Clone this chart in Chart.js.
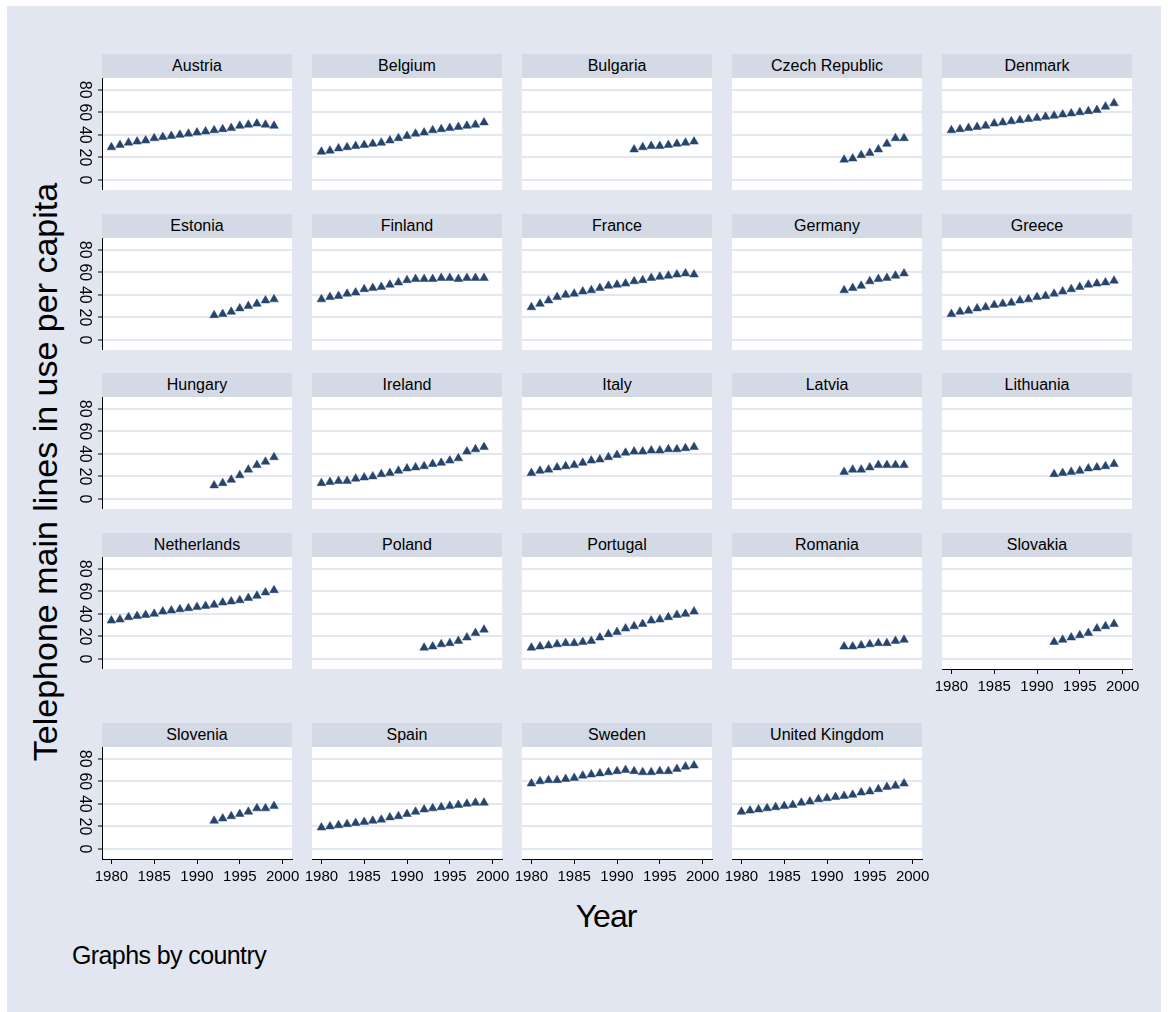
<!DOCTYPE html>
<html>
<head>
<meta charset="utf-8">
<script src="https://cdn.jsdelivr.net/npm/chart.js@4.4.1/dist/chart.umd.min.js"></script>
<style>
  html, body { margin: 0; padding: 0; background: #fff; }
  body { position: relative; width: 1168px; height: 1012px; overflow: hidden; font-family: "Liberation Sans", Arial, sans-serif; color: #000; }
  #frame { position: absolute; left: 7px; top: 6px; width: 1154px; height: 1006px; background: #e1e6f0; }
  .strip { position: absolute; height: 24px; line-height: 24px; background: #d3d9e5; text-align: center; font-size: 16px; }
  .panel { position: absolute; }
  .ytitle { position: absolute; left: -355px; top: 452px; width: 800px; height: 40px; line-height: 40px; text-align: center; font-size: 34px; transform: rotate(-90deg); }
  .xtitle { position: absolute; left: 406px; top: 896px; width: 400px; height: 40px; line-height: 40px; text-align: center; font-size: 32px; letter-spacing: -1px; }
  .note { position: absolute; left: 72px; top: 940px; line-height: 30px; font-size: 25px; letter-spacing: -0.6px; }
</style>
</head>
<body>
<div id="frame"></div>
<div class="ytitle">Telephone main lines in use per capita</div>
<div class="xtitle">Year</div>
<div class="note">Graphs by country</div>
<script>
// ---- data ----
var years = [1980, 1981, 1982, 1983, 1984, 1985, 1986, 1987, 1988, 1989,
             1990, 1991, 1992, 1993, 1994, 1995, 1996, 1997, 1998, 1999];
var countries = ['Austria', 'Belgium', 'Bulgaria', 'Czech Republic', 'Denmark',
                 'Estonia', 'Finland', 'France', 'Germany', 'Greece',
                 'Hungary', 'Ireland', 'Italy', 'Latvia', 'Lithuania',
                 'Netherlands', 'Poland', 'Portugal', 'Romania', 'Slovakia',
                 'Slovenia', 'Spain', 'Sweden', 'United Kingdom'];
var firstYear = [1980, 1980, 1992, 1992, 1980,
                 1992, 1980, 1980, 1992, 1980,
                 1992, 1980, 1980, 1992, 1992,
                 1980, 1992, 1980, 1992, 1992,
                 1992, 1980, 1980, 1980];

var austria     = [29, 31, 33, 34, 35, 37, 38, 39, 40, 41, 42, 43, 44, 45, 46, 48, 49, 50, 49, 48];
var belgium     = [25, 26, 28, 29, 30, 31, 32, 33, 35, 37, 39, 41, 42, 44, 45, 46, 47, 48, 49, 51];
var bulgaria    = [27, 29, 30, 30, 31, 32, 33, 34];
var czech       = [18, 19, 22, 24, 27, 32, 37, 37];
var denmark     = [44, 45, 46, 47, 48, 50, 51, 52, 53, 54, 55, 56, 57, 58, 59, 60, 61, 62, 65, 68];
var estonia     = [22, 23, 25, 28, 30, 32, 35, 36];
var finland     = [36, 38, 39, 41, 42, 45, 46, 47, 49, 51, 53, 54, 54, 54, 55, 55, 54, 55, 55, 55];
var france      = [29, 32, 35, 38, 40, 41, 43, 44, 46, 48, 49, 50, 52, 53, 55, 56, 57, 58, 59, 58];
var germany     = [44, 46, 48, 52, 54, 55, 57, 59];
var greece      = [23, 25, 26, 28, 29, 31, 32, 33, 35, 36, 38, 39, 41, 43, 45, 47, 49, 50, 51, 52.5];
var hungary     = [12, 14, 17, 21, 26, 30, 33, 37];
var ireland     = [14, 15, 16, 16, 18, 19, 20, 22, 23, 25, 27, 28, 29, 31, 32, 34, 36, 42, 44, 46];
var italy       = [23, 25, 26, 28, 29, 30, 32, 34, 35, 37, 39, 41, 42, 42, 43, 43, 44, 44, 45, 46];
var latvia      = [24, 26, 26, 28, 30, 30, 30, 30];
var lithuania   = [22, 23, 24, 25, 27, 28, 29, 31];
var netherlands = [34, 35, 37, 38, 39, 40, 42, 43, 44, 45, 46, 47, 48, 50, 51, 52, 54, 56, 59, 61];
var poland      = [10, 11, 13, 14, 16, 19, 23, 26];
var portugal    = [10, 11, 12, 13, 14, 14, 15, 16, 19, 22, 24, 27, 29, 31, 34, 35, 37, 39, 40, 42];
var romania     = [11, 11, 12, 13, 14, 14, 16, 17];
var slovakia    = [15, 17, 19, 21, 23, 27, 29, 31];
var slovenia    = [25, 27, 29, 31, 33, 36, 36, 38];
var spain       = [19, 20, 21, 22, 23, 24, 25, 26, 28, 29, 31, 33, 35, 36, 37, 38, 39, 40, 41, 41];
var sweden      = [58, 60, 61, 61, 62, 63, 65, 66, 67, 68, 69, 70, 69, 68, 68, 69, 69, 71, 73, 74];
var uk          = [33, 34, 35, 36, 37, 38, 39, 41, 42, 44, 45, 46, 47, 48, 50, 51, 53, 55, 56, 58];

var values = [austria, belgium, bulgaria, czech, denmark,
              estonia, finland, france, germany, greece,
              hungary, ireland, italy, latvia, lithuania,
              netherlands, poland, portugal, romania, slovakia,
              slovenia, spain, sweden, uk];

var xTicks = [1980, 1985, 1990, 1995, 2000];
var xTickLabels = ['1980', '1985', '1990', '1995', '2000'];
var yTicks = [0, 20, 40, 60, 80];
var yTickLabels = ['0', '20', '40', '60', '80'];

// ---- layout ----
var colLeft = [102, 312, 522, 732, 942];
var stripTop = [54, 214, 373, 533, 723];
var plotW = 190, plotH = 112, stripH = 24;
var yAxisW = 45, xAxisH = 30, sidePad = 10;
var markerColor = '#27446f';
var gridColor = '#e3e8f0';

Chart.defaults.font.family = '"Liberation Sans", Arial, sans-serif';
Chart.defaults.color = '#000';

var plotBg = {
    id: 'plotBg',
    beforeDraw: function (chart) {
        var a = chart.chartArea, ctx = chart.ctx;
        ctx.save();
        ctx.fillStyle = '#fff';
        ctx.fillRect(a.left, a.top, a.right - a.left, a.bottom - a.top);
        ctx.restore();
    }
};

countries.forEach(function (name, i) {
    var row = Math.floor(i / 5), col = i % 5;
    var showY = col === 0;
    var showX = row === 4 || (row === 3 && col === 4);
    var padL = showY ? yAxisW : sidePad;
    var top = stripTop[row];

    var strip = document.createElement('div');
    strip.className = 'strip';
    strip.style.left = colLeft[col] + 'px';
    strip.style.top = top + 'px';
    strip.style.width = plotW + 'px';
    strip.textContent = name;
    document.body.appendChild(strip);

    var box = document.createElement('div');
    box.className = 'panel';
    box.style.left = (colLeft[col] - padL) + 'px';
    box.style.top = (top + stripH) + 'px';
    var canvas = document.createElement('canvas');
    canvas.width = padL + plotW + sidePad;
    canvas.height = plotH + (showX ? xAxisH : 0);
    box.appendChild(canvas);
    document.body.appendChild(box);

    var start = years.indexOf(firstYear[i]);
    var pts = values[i].map(function (v, k) { return { x: years[start + k], y: v }; });

    new Chart(canvas, {
        type: 'scatter',
        data: {
            datasets: [{
                data: pts,
                pointStyle: 'triangle',
                pointRadius: 5,
                pointHoverRadius: 5,
                backgroundColor: markerColor,
                borderColor: markerColor,
                borderWidth: 0.5
            }]
        },
        options: {
            responsive: false,
            animation: false,
            events: [],
            layout: { autoPadding: false, padding: { left: showY ? 0 : sidePad, right: sidePad, top: 0, bottom: 0 } },
            plugins: { legend: { display: false }, tooltip: { enabled: false } },
            scales: {
                x: {
                    type: 'linear',
                    min: 1978.9,
                    max: 2001.1,
                    display: showX,
                    afterBuildTicks: function (s) { s.ticks = xTicks.map(function (v) { return { value: v }; }); },
                    afterFit: function (s) { s.height = showX ? xAxisH : 0; s.paddingLeft = 0; s.paddingRight = 0; },
                    border: { display: true, color: '#000', width: 1 },
                    grid: { drawOnChartArea: false, drawTicks: true, tickLength: 5, tickColor: '#000', tickWidth: 1 },
                    ticks: {
                        autoSkip: false, minRotation: 0, maxRotation: 0, padding: 4,
                        font: { size: 15 },
                        callback: function (v, k) { return xTickLabels[k]; }
                    }
                },
                y: {
                    type: 'linear',
                    min: -8.9,
                    max: 90.4,
                    afterBuildTicks: function (s) { s.ticks = yTicks.map(function (v) { return { value: v }; }); },
                    afterFit: function (s) { s.width = showY ? yAxisW : 0; s.paddingTop = 0; s.paddingBottom = 0; },
                    border: { display: showY, color: '#000', width: 1 },
                    grid: { color: gridColor, lineWidth: 2, drawTicks: showY, tickLength: 4, tickColor: '#000', tickWidth: 1 },
                    ticks: {
                        display: showY, padding: 5, minRotation: -90, maxRotation: -90, crossAlign: 'center',
                        font: { size: 16 },
                        callback: function (v, k) { return yTickLabels[k]; }
                    }
                }
            }
        },
        plugins: [plotBg]
    });
});
</script>
</body>
</html>
